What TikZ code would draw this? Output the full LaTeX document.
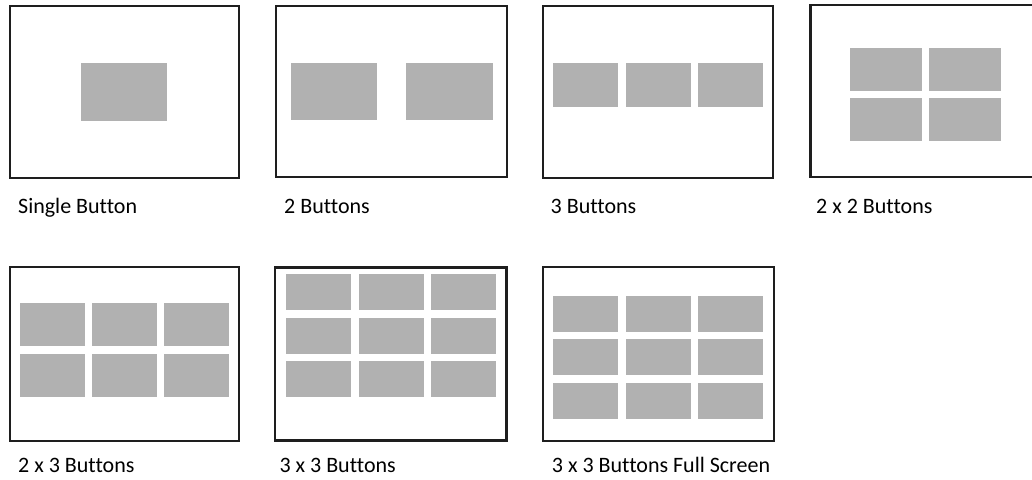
\documentclass[tikz,border=0pt]{standalone}
\usepackage{fontspec}
\setmainfont{Carlito}[Ligatures=NoCommon]
\usepackage{xcolor}
\usetikzlibrary{positioning}
\definecolor{btngray}{HTML}{B1B1B1}
\definecolor{framegray}{HTML}{1E1E1E}
\tikzset{
  screen/.style={draw=framegray, line width=2pt, fill=white},
  screenbold/.style={screen, line width=2.6pt},
  btn/.style={fill=btngray, draw=none},
  caption/.style={anchor=base west, inner sep=0pt, font=\fontsize{22}{26}\selectfont, text=black}
}

\begin{document}
\begin{tikzpicture}[x=1pt, y=-1pt]
  \useasboundingbox (0,0) rectangle (1032,479);

  % row one
  \draw[screen] (9.5,6) rectangle (239,178);
  \fill[btn] (81,63) rectangle (167,121);
  \node[caption] (cap1) at (18,213) {Single Button};

  \draw[screen] (276,6) rectangle (506.5,177);
  \fill[btn] (290.5,63) rectangle (377,120);
  \fill[btn] (406,63) rectangle (492.5,120);
  \node[caption] (cap2) at (284,213) {2 Buttons};

  \draw[screen] (542.5,6) rectangle (773,178);
  \foreach \x in {553.3,626,698.3}
    \fill[btn] (\x,63) rectangle ++(65,44);
  \node[caption] (cap3) at (550.5,213) {3 Buttons};

  \draw[screenbold] (810.5,5) rectangle (1036,177);
  \foreach \x in {850,929}
    \foreach \y in {47.7,98.3}
      \fill[btn] (\x,\y) rectangle ++(72,43);
  \node[caption] (cap4) at (816,213) {2 x 2 Buttons};

  % row two
  \draw[screen] (9.5,267.3) rectangle (239,440.7);
  \foreach \x in {20,92.3,164}
    \foreach \y in {303.3,354.3}
      \fill[btn] (\x,\y) rectangle ++(65,43);
  \node[caption] (cap5) at (18,472.7) {2 x 3 Buttons};

  \draw[screenbold] (275,267.3) rectangle (506.5,440.7);
  \foreach \x in {286,358.7,430.7}
    \foreach \y in {274,317.7,361.3}
      \fill[btn] (\x,\y) rectangle ++(65,36);
  \node[caption] (cap6) at (279.3,472.7) {3 x 3 Buttons};

  \draw[screen] (543.3,267.3) rectangle (774,440.7);
  \foreach \x in {553.3,626,698.3}
    \foreach \y in {295.7,339.3,383}
      \fill[btn] (\x,\y) rectangle ++(65,36);
  \node[caption] (cap7) at (551.7,472.7) {3 x 3 Buttons Full Screen};
\end{tikzpicture}
\end{document}
